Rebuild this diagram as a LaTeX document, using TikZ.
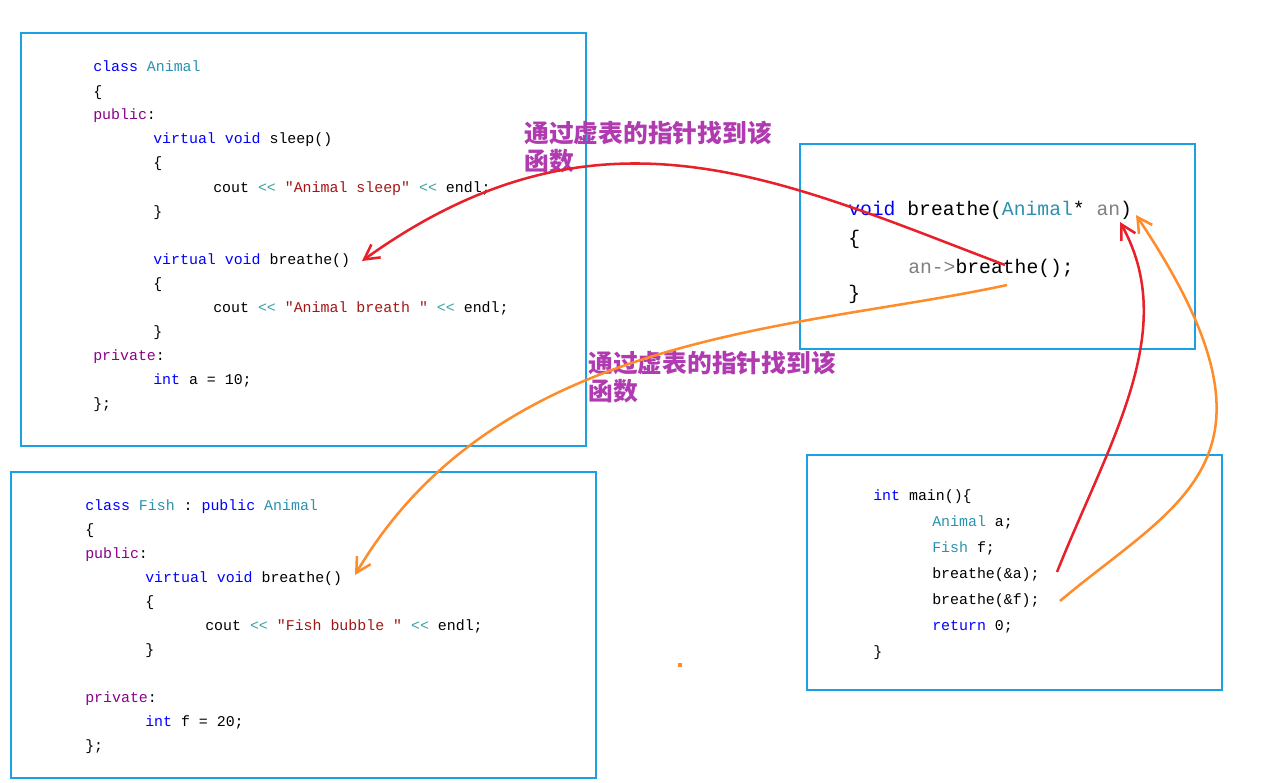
\documentclass[tikz,border=0pt]{standalone}
\usepackage{fontspec}
\setmonofont{Liberation Mono}
\newfontfamily\cjk{Noto Sans CJK SC}
\usetikzlibrary{arrows.meta}
\definecolor{boxblue}{HTML}{1BA1E2}
\definecolor{kw}{HTML}{0000FF}
\definecolor{ty}{HTML}{2B91AF}
\definecolor{st}{HTML}{A31515}
\definecolor{ac}{HTML}{8B008B}
\definecolor{op}{HTML}{3CA0A0}
\definecolor{note}{HTML}{B03AB0}
\definecolor{arrred}{HTML}{E8202A}
\definecolor{arrorange}{HTML}{FF8C2A}
\newcommand{\kw}[1]{\textcolor{kw}{#1}}
\newcommand{\ty}[1]{\textcolor{ty}{#1}}
\newcommand{\st}[1]{\textcolor{st}{#1}}
\newcommand{\ac}[1]{\textcolor{ac}{#1}}
\newcommand{\op}[1]{\textcolor{op}{#1}}

\begin{document}
\begin{tikzpicture}[
    x=0.0264cm, y=-0.0264cm,
    box/.style={draw=boxblue, line width=2.2pt},
    code/.style={anchor=base west, inner sep=0pt, font=\ttfamily\fontsize{11.2}{13}\selectfont},
    bigcode/.style={anchor=base west, inner sep=0pt, font=\ttfamily\fontsize{14.8}{17}\selectfont},
    note/.style={anchor=base west, inner sep=0pt, text=note, font=\cjk\bfseries\fontsize{18.6}{21}\selectfont},
    link/.style={line width=1.9pt, -{Straight Barb[length=11pt,width=12pt,line width=1.9pt]}},
]
\useasboundingbox (0,0) rectangle (1274,783);

% boxes
\draw[box] (21,33) rectangle (586,446);
\draw[box] (11,472) rectangle (596,778);
\draw[box] (800,144) rectangle (1195,349);
\draw[box] (807,455) rectangle (1222,690);

% class Animal
\node[code] (a1) at (93,72) {\kw{class} \ty{Animal}};
\node[code] (a2) at (93,96) {\{};
\node[code] (a3) at (93,120) {\ac{public}:};
\node[code] (a4) at (153,144) {\kw{virtual} \kw{void} sleep()};
\node[code] (a5) at (153,168) {\{};
\node[code] (a6) at (213,192) {cout \op{<<} \st{"Animal sleep"} \op{<<} endl;};
\node[code] (a7) at (153,216) {\}};
\node[code] (a8) at (153,264) {\kw{virtual} \kw{void} breathe()};
\node[code] (a9) at (153,288) {\{};
\node[code] (a10) at (213,312) {cout \op{<<} \st{"Animal breath "} \op{<<} endl;};
\node[code] (a11) at (153,336) {\}};
\node[code] (a12) at (93,360) {\ac{private}:};
\node[code] (a13) at (153,384) {\kw{int} a = 10;};
\node[code] (a14) at (93,408) {\};};

% class Fish
\node[code] (f1) at (85,510) {\kw{class} \ty{Fish} : \kw{public} \ty{Animal}};
\node[code] (f2) at (85,534) {\{};
\node[code] (f3) at (85,558) {\ac{public}:};
\node[code] (f4) at (145,582) {\kw{virtual} \kw{void} breathe()};
\node[code] (f5) at (145,606) {\{};
\node[code] (f6) at (205,630) {cout \op{<<} \st{"Fish bubble "} \op{<<} endl;};
\node[code] (f7) at (145,654) {\}};
\node[code] (f8) at (85,702) {\ac{private}:};
\node[code] (f9) at (145,726) {\kw{int} f = 20;};
\node[code] (f10) at (85,750) {\};};

% breathe
\node[bigcode] (b1) at (848,215) {\kw{void} breathe(\ty{Animal}* \textcolor{gray}{an})};
\node[bigcode] (b2) at (848,244) {\{};
\node[bigcode] (b3) at (908,273) {\textcolor{gray}{an}\textcolor{gray}{->}breathe();};
\node[bigcode] (b4) at (848,299) {\}};

% main
\node[code] (m1) at (873,500) {\kw{int} main()\{};
\node[code] (m2) at (932,526) {\ty{Animal} a;};
\node[code] (m3) at (932,552) {\ty{Fish} f;};
\node[code] (m4) at (932,578) {breathe(\&a);};
\node[code] (m5) at (932,604) {breathe(\&f);};
\node[code] (m6) at (932,630) {\kw{return} 0;};
\node[code] (m7) at (873,656) {\}};

% notes
\node[note] (n1) at (524,143) {通过虚表的指针找到该};
\node[note] (n2) at (524,171) {函数};
\node[note] (n3) at (588,372) {通过虚表的指针找到该};
\node[note] (n4) at (588,400) {函数};

% connector ends
\coordinate (callA) at (1057,572);
\coordinate (callF) at (1060,601);
\coordinate (anA) at (1120,222);
\coordinate (anF) at (1136,215);
\coordinate (callR) at (1005,265);
\coordinate (callO) at (1007,285);
\coordinate (animalBr) at (362,261);
\coordinate (fishBr) at (355,575);

\draw[link, arrred] (callR) .. controls (780,180) and (600,90) .. (animalBr);
\draw[link, arrorange] (callO) .. controls (800,330) and (500,330) .. (fishBr);
\draw[link, arrred] (callA) .. controls (1110,440) and (1180,330) .. (anA);
\draw[link, arrorange] (callF) .. controls (1180,500) and (1300,460) .. (anF);

\fill[arrorange] (678,663) rectangle (682,667);
\end{tikzpicture}
\end{document}
